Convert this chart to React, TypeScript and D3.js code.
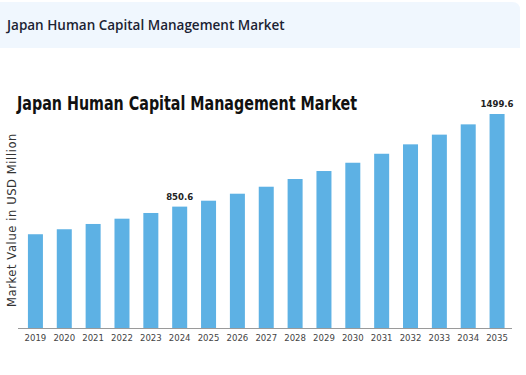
import React from 'react';
import * as d3 from 'd3';

const years = ['2019', '2020', '2021', '2022', '2023', '2024', '2025', '2026', '2027',
  '2028', '2029', '2030', '2031', '2032', '2033', '2034', '2035'];
const values = [657, 692, 729, 766, 806, 850.6, 892, 941, 990,
  1044, 1100, 1158, 1221, 1287, 1355, 1427, 1499.6];
const labelledYears = ['2024', '2035'];

const W = 526;
const H = 375;
const baseY = 328;

const App: React.FC = () => {
  const x = d3.scaleBand<string>()
    .domain(years)
    .range([21, 511.5])
    .paddingInner(0.48)
    .paddingOuter(0.24);

  const y = d3.scaleLinear()
    .domain([0, 1499.6])
    .range([baseY, 114]);

  const fmt = d3.format('.1f');

  return (
    <svg width={W} height={H} style={{ position: 'absolute', left: 0, top: 0 }}>
      <rect width={W} height={H} fill="#ffffff" />
      {/* page header strip */}
      <path d="M0,2 H512 Q520,2 520,10 V48 H0 Z" fill="#f0f7fe" />
      <text x={7} y={30} fontFamily="'Open Sans', 'Noto Sans', sans-serif" fontWeight={600}
        fontSize={13.5} fill="#1b2333">Japan Human Capital Management Market</text>

      {/* chart title */}
      <text x={17} y={110} fontFamily="'DejaVu Sans Condensed', 'DejaVu Sans', sans-serif"
        fontWeight="bold" fontSize={20} fill="#111" textLength={340}
        lengthAdjust="spacingAndGlyphs">Japan Human Capital Management Market</text>

      {/* y label */}
      <text transform={`translate(16,${220}) rotate(-90)`} textAnchor="middle"
        fontFamily="'DejaVu Sans', sans-serif" fontSize={11.5} fill="#333"
        letterSpacing={0.6}>Market Value in USD Million</text>

      {years.map((yr, i) => (
        <rect key={yr} x={x(yr)} y={y(values[i])} width={x.bandwidth()}
          height={baseY - y(values[i])} fill="#5db1e4" />
      ))}

      <line x1={18} x2={512} y1={baseY + 0.5} y2={baseY + 0.5} stroke="#9a9a9a" strokeWidth={1} />

      {years.map(yr => (
        <text key={yr} x={(x(yr) ?? 0) + x.bandwidth() / 2} y={341} textAnchor="middle"
          fontFamily="'DejaVu Sans Condensed', 'DejaVu Sans', sans-serif" fontSize={9.5}
          fill="#444">{yr}</text>
      ))}

      {years.map((yr, i) => labelledYears.includes(yr) ? (
        <text key={'v' + yr} x={(x(yr) ?? 0) + x.bandwidth() / 2} y={y(values[i]) - 7}
          textAnchor="middle" fontFamily="'DejaVu Sans Condensed', 'DejaVu Sans', sans-serif"
          fontWeight="bold" fontSize={9.5} fill="#222">{fmt(values[i])}</text>
      ) : null)}
    </svg>
  );
};

export default App;
